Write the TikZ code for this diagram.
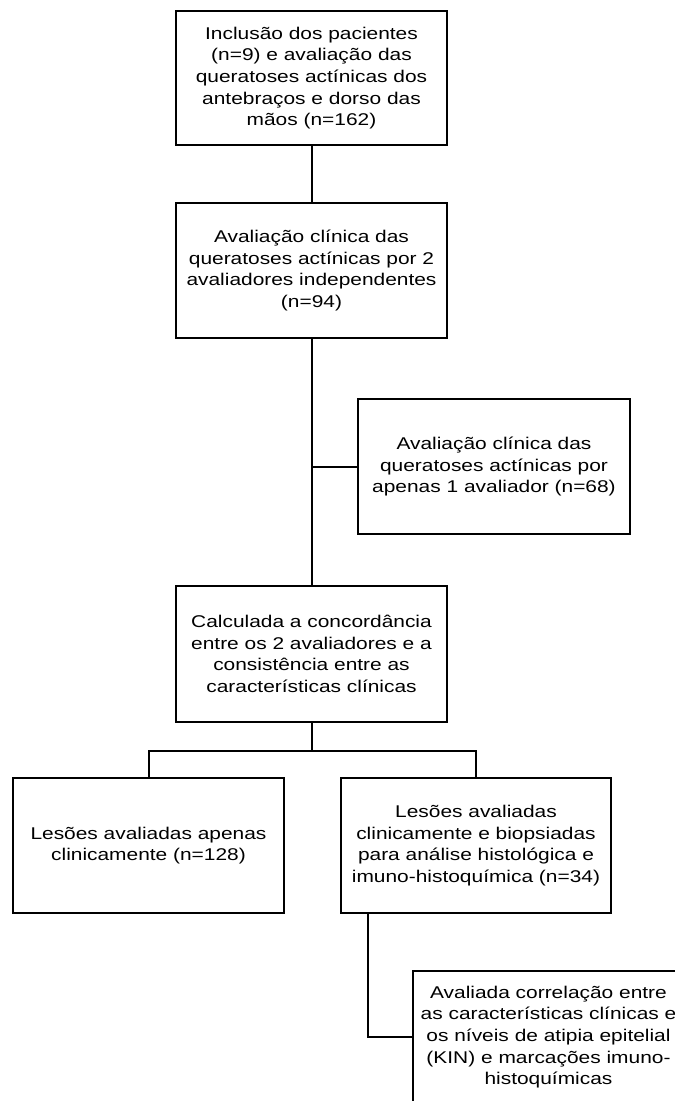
\documentclass[tikz,border=0pt]{standalone}
\usepackage{fontspec}
\setmainfont{Liberation Sans}[FakeStretch=1.23]
\begin{document}
\begin{tikzpicture}[x=1pt,y=-1pt,
  box/.style={draw,line width=2pt,align=center,inner sep=0pt,
    minimum width=#1,font=\fontsize{17}{21.7}\selectfont},
  conn/.style={line width=2pt}]
\useasboundingbox (0,0) rectangle (675,1101);
\clip (0,0) rectangle (675,1101);
\node[box=271pt,minimum height=134pt] (b1) at (311.5,78)
  {Inclusão dos pacientes\\(n=9) e avaliação das\\queratoses actínicas dos\\antebraços e dorso das\\mãos (n=162)};
\node[box=271pt,minimum height=135pt] (b2) at (311.5,270.5)
  {Avaliação clínica das\\queratoses actínicas por 2\\avaliadores independentes\\(n=94)};
\node[box=272pt,minimum height=135pt] (b3) at (494,466.5)
  {Avaliação clínica das\\queratoses actínicas por\\apenas 1 avaliador (n=68)};
\node[box=271pt,minimum height=136pt] (b4) at (311.5,654)
  {Calculada a concordância\\entre os 2 avaliadores e a\\consistência entre as\\características clínicas};
\node[box=271pt,minimum height=135pt] (b5) at (148.5,845.5)
  {Lesões avaliadas apenas\\clinicamente (n=128)};
\node[box=270pt,minimum height=135pt] (b6) at (476,845.5)
  {Lesões avaliadas\\clinicamente e biopsiadas\\para análise histológica e\\imuno-histoquímica (n=34)};
\node[box=271pt,minimum height=132pt] (b7) at (548.5,1037)
  {Avaliada correlação entre\\as características clínicas e\\os níveis de atipia epitelial\\(KIN) e marcações imuno-\\histoquímicas};
\coordinate (j1) at (b2.south |- b3.west);
\coordinate (j2) at (311.5,751);
\coordinate (jl) at (b5.north |- j2);
\coordinate (jr) at (b6.north |- j2);
\coordinate (s6) at (368,913);
\coordinate (c7) at (s6 |- b7.west);
\draw[conn] (b1.south) -- (b2.north);
\draw[conn] (b2.south) -- (b4.north);
\draw[conn] (j1) -- (b3.west);
\draw[conn] (b4.south) -- (j2);
\draw[conn] (b5.north) -- (jl) -- (jr) -- (b6.north);
\draw[conn] (s6) -- (c7) -- (b7.west);
\end{tikzpicture}
\end{document}
